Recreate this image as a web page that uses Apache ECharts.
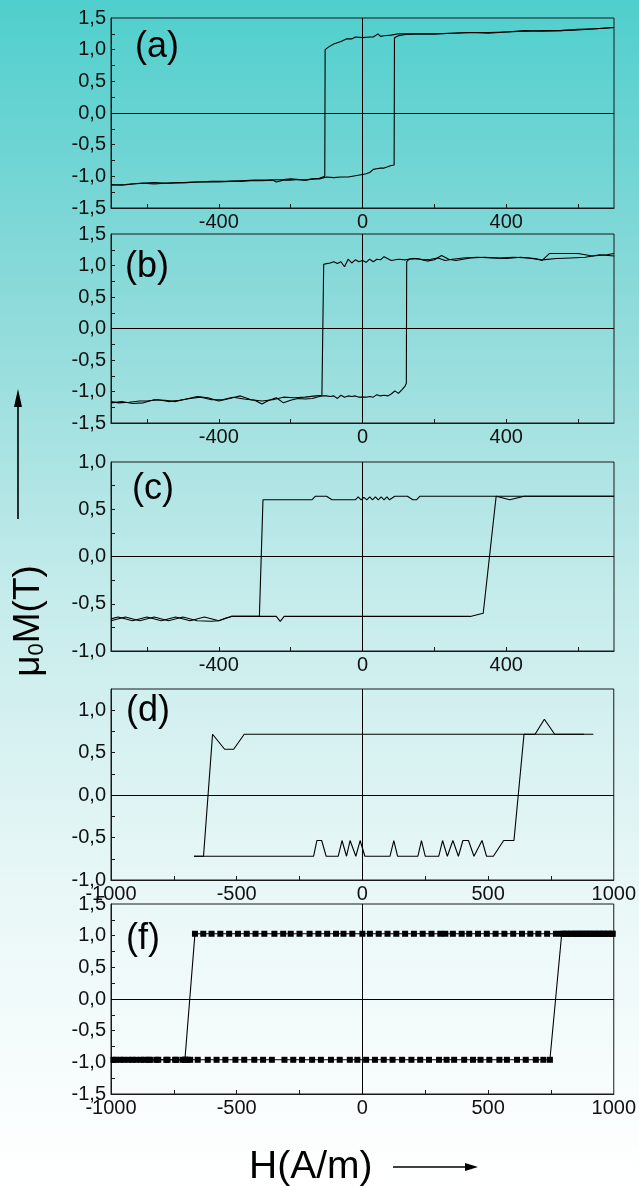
<!DOCTYPE html>
<html>
<head>
<meta charset="utf-8">
<script src="https://cdn.jsdelivr.net/npm/echarts@6/dist/echarts.min.js"></script>
<style>
  html, body { margin: 0; padding: 0; }
  #chart { width: 639px; height: 1186px; }
</style>
</head>
<body>
<div id="chart"></div>
<script>
// Hysteresis loops mu0*M(H); each panel = rising-field branch + falling-field branch.

// (a)
const aRiseH = [-700,-670,-640,-610,-580,-550,-520,-490,-460,-430,-400,-370,-340,-310,-280,-250,
  -240,-220,-200,-180,-160,-140,-120,-100,-80,-60,-40,-20,0,
  10,20,30,40,50,60,70,80,88,
  89,100,120,150,
  200,250,300,350,400,450,500,550,600,650,700];
const aRiseM = [-1.13,-1.14,-1.12,-1.11,-1.12,-1.11,-1.10,-1.10,-1.09,-1.09,-1.09,-1.08,-1.08,-1.07,-1.07,-1.06,
  -1.09,-1.06,-1.06,-1.05,-1.06,-1.04,-1.04,-1.01,-1.02,-1.01,-1.01,-0.99,-0.97,
  -0.96,-0.94,-0.89,-0.88,-0.87,-0.87,-0.85,-0.83,-0.82,
  1.19,1.22,1.24,1.25,
  1.25,1.26,1.27,1.27,1.28,1.29,1.30,1.30,1.32,1.33,1.35];
const aFallH = [700,650,600,550,500,450,400,350,300,250,200,150,
  120,100,80,60,50,43,30,20,0,
  -20,-30,-45,-60,-80,-95,-104,
  -105,-120,-160,-200,-220,-260,-300,-340,-380,-420,-460,-500,-540,-580,-620,-660,-700];
const aFallM = [1.35,1.33,1.31,1.30,1.29,1.30,1.28,1.26,1.27,1.26,1.25,1.25,
  1.25,1.25,1.23,1.22,1.21,1.25,1.20,1.20,1.19,
  1.20,1.17,1.17,1.13,1.09,1.04,1.00,
  -1.00,-1.03,-1.06,-1.04,-1.05,-1.06,-1.06,-1.07,-1.08,-1.08,-1.09,-1.10,-1.11,-1.10,-1.11,-1.13,-1.14];

// (b)
const bRiseH = [-700,-680,-650,-620,-600,-570,-540,-510,-480,-450,
  -420,-390,-360,-330,-300,-280,-260,-240,-220,-200,
  -180,-160,-140,-120,
  -110,-100,-90,-80,-70,-60,-50,-40,-30,-20,-10,0,10,20,30,40,50,60,70,80,90,100,110,
  118,122,
  123,130,150,170,190,210,230,250,280,320,
  360,400,440,480,500,520,560,600,640,680,700];
const bRiseM = [-1.16,-1.18,-1.17,-1.15,-1.15,-1.13,-1.16,-1.14,-1.11,-1.09,
  -1.13,-1.13,-1.09,-1.12,-1.14,-1.20,-1.14,-1.10,-1.18,-1.14,
  -1.11,-1.12,-1.11,-1.08,
  -1.07,-1.07,-1.08,-1.07,-1.11,-1.06,-1.09,-1.07,-1.08,-1.07,-1.09,-1.09,-1.09,-1.08,-1.09,-1.05,-1.07,-1.06,-1.07,-1.04,-0.99,-1.03,-0.97,
  -0.92,-0.87,
  1.06,1.10,1.11,1.09,1.10,1.12,1.08,1.10,1.12,1.13,
  1.12,1.11,1.13,1.11,1.08,1.19,1.19,1.19,1.15,1.17,1.19];
const bFallH = [700,660,620,580,540,500,460,420,380,340,
  300,260,240,220,200,180,160,140,120,100,
  80,60,50,40,30,20,10,0,-10,-20,
  -30,-40,-50,-60,-70,-80,-90,-100,-108,
  -113,-130,-160,-190,-220,-250,-280,-310,-340,-370,
  -400,-430,-460,-490,-520,-550,-580,-610,-640,-670,-700];
const bFallM = [1.15,1.17,1.13,1.12,1.11,1.09,1.12,1.13,1.12,1.13,
  1.12,1.08,1.10,1.16,1.09,1.07,1.10,1.11,1.09,1.10,
  1.08,1.14,1.09,1.10,1.06,1.10,1.05,1.08,1.06,1.09,
  1.04,1.10,0.98,1.06,1.03,1.06,1.04,1.03,1.02,
  -1.06,-1.07,-1.09,-1.10,-1.09,-1.13,-1.15,-1.13,-1.07,-1.11,
  -1.15,-1.10,-1.08,-1.12,-1.16,-1.14,-1.13,-1.18,-1.19,-1.16,-1.18];

// (c)
const cRiseH = [-700,-660,-620,-580,-540,-500,-460,-420,-400,-380,-365,-240,-229,-218,300,336,372,410,450,700];
const cRiseM = [-0.68,-0.64,-0.68,-0.64,-0.68,-0.64,-0.68,-0.685,-0.68,-0.65,-0.634,-0.634,-0.687,-0.634,-0.634,-0.60,0.638,0.638,0.638,0.638];
const cFallH = [700,450,410,372,160,150,140,125,90,75,
  68,60,52,44,36,28,20,12,4,-4,
  -12,-20,-85,-100,-131,-141,-277,-287,-365,-400,
  -440,-480,-520,-560,-600,-640,-680,-700];
const cFallM = [0.638,0.638,0.60,0.638,0.638,0.60,0.60,0.638,0.638,0.60,
  0.63,0.60,0.63,0.60,0.63,0.60,0.63,0.60,0.625,0.60,
  0.63,0.60,0.60,0.638,0.638,0.60,0.60,-0.634,-0.634,-0.68,
  -0.64,-0.68,-0.64,-0.68,-0.64,-0.68,-0.64,-0.66];

// (d)
const dRiseH = [-670,-194,-181,-162,-144,-96,-81,-63,-49,-26,
  -9,10,110,125,140,221,235,250,304,319,
  338,360,382,400,422,444,476,494,521,562,
  603,643,687,724,765,882];
const dRiseM = [-0.72,-0.72,-0.535,-0.535,-0.72,-0.72,-0.535,-0.72,-0.535,-0.72,
  -0.535,-0.72,-0.72,-0.535,-0.72,-0.72,-0.535,-0.72,-0.72,-0.535,
  -0.72,-0.535,-0.72,-0.535,-0.535,-0.72,-0.535,-0.72,-0.72,-0.535,
  -0.535,0.717,0.717,0.894,0.717,0.717];
const dFallH = [919,-470,-512,-548,-596,-632,-670];
const dFallM = [0.717,0.717,0.54,0.54,0.717,-0.72,-0.72];

// (f)
const fRiseH = [-990,-962,-930,-900,-868,-845,-812,-775,-745,-715,
  -705,-695,-685,-655,-615,-580,-545,-505,-470,-430,
  -395,-360,-310,-275,-240,-200,-165,-125,-90,-50,
  -20,15,50,85,120,158,195,230,265,305,
  335,365,405,440,470,505,545,575,615,650,
  690,720,746,
  793,812,830,848,866,884,902,920,938,956,974,995];
const fRiseM = [-0.96,-0.96,-0.96,-0.96,-0.96,-0.96,-0.96,-0.96,-0.96,-0.96,
  -0.96,-0.96,-0.96,-0.96,-0.96,-0.96,-0.96,-0.96,-0.96,-0.96,
  -0.96,-0.96,-0.96,-0.96,-0.96,-0.96,-0.96,-0.96,-0.96,-0.96,
  -0.96,-0.96,-0.96,-0.96,-0.96,-0.96,-0.96,-0.96,-0.96,-0.96,
  -0.96,-0.96,-0.96,-0.96,-0.96,-0.96,-0.96,-0.96,-0.96,-0.96,
  -0.96,-0.96,-0.96,
  1.03,1.03,1.03,1.03,1.03,1.03,1.03,1.03,1.03,1.03,1.03,1.03];
const fFallH = [995,980,962,945,928,910,892,875,858,840,
  818,800,770,735,700,668,635,600,565,530,
  495,460,425,395,360,330,310,275,240,205,
  170,135,100,65,30,0,-40,-75,-105,-140,
  -175,-210,-250,-285,-315,-350,-390,-425,-460,-495,
  -530,-565,-600,-633,-666,
  -706,-740,-780,-820,-850,-880,-915,-950,-980];
const fFallM = [1.03,1.03,1.03,1.03,1.03,1.03,1.03,1.03,1.03,1.03,
  1.03,1.03,1.03,1.03,1.03,1.03,1.03,1.03,1.03,1.03,
  1.03,1.03,1.03,1.03,1.03,1.03,1.03,1.03,1.03,1.03,
  1.03,1.03,1.03,1.03,1.03,1.03,1.03,1.03,1.03,1.03,
  1.03,1.03,1.03,1.03,1.03,1.03,1.03,1.03,1.03,1.03,
  1.03,1.03,1.03,1.03,1.03,
  -0.96,-0.96,-0.96,-0.96,-0.96,-0.96,-0.96,-0.96,-0.96];

// Axis ticks and labels
const hTicksNarrow = [-600,-400,-200,0,200,400,600];
const hLabelsNarrow = [-400,0,400];
const hTicksWide = [-750,-500,-250,0,250,500,750];
const hLabelsWide = [-1000,-500,0,500,1000];
const mTicks15 = [-1.25,-1,-0.75,-0.5,-0.25,0,0.25,0.5,0.75,1,1.25];
const mLabels15 = [-1.5,-1,-0.5,0,0.5,1,1.5];
const mTicks10 = [-0.75,-0.5,-0.25,0,0.25,0.5,0.75];
const mLabels10 = [-1,-0.5,0,0.5,1];
const mTicksD = [-0.75,-0.5,-0.25,0,0.25,0.5,0.75,1];
const mLabelsD = [-1,-0.5,0,0.5,1];
const panelNames = ['(a)','(b)','(c)','(d)','(f)'];

const FONT = '"Liberation Sans", Arial, Helvetica, sans-serif';
const AXIS_COLOR = '#1a1a1a';
const TICK_FONT = 20;

const pair = (h, m) => h.map((x, i) => [x, m[i]]);

const panels = [
  { top: 18,  height: 190, hMin: -700,  hMax: 700,  hT: hTicksNarrow, hL: hLabelsNarrow, mMin: -1.5, mMax: 1.5,  mT: mTicks15, mL: mLabels15, rise: pair(aRiseH, aRiseM), fall: pair(aFallH, aFallM) },
  { top: 234, height: 189, hMin: -700,  hMax: 700,  hT: hTicksNarrow, hL: hLabelsNarrow, mMin: -1.5, mMax: 1.5,  mT: mTicks15, mL: mLabels15, rise: pair(bRiseH, bRiseM), fall: pair(bFallH, bFallM) },
  { top: 462, height: 189, hMin: -700,  hMax: 700,  hT: hTicksNarrow, hL: hLabelsNarrow, mMin: -1.0, mMax: 1.0,  mT: mTicks10, mL: mLabels10, rise: pair(cRiseH, cRiseM), fall: pair(cFallH, cFallM) },
  { top: 689, height: 191, hMin: -1000, hMax: 1000, hT: hTicksWide,   hL: hLabelsWide,   mMin: -1.0, mMax: 1.25, mT: mTicksD,  mL: mLabelsD,  rise: pair(dRiseH, dRiseM), fall: pair(dFallH, dFallM) },
  { top: 904, height: 190, hMin: -1000, hMax: 1000, hT: hTicksWide,   hL: hLabelsWide,   mMin: -1.5, mMax: 1.5,  mT: mTicks15, mL: mLabels15, rise: pair(fRiseH, fRiseM), fall: pair(fFallH, fFallM), markers: true }
];

const commaFmt = v => v.toFixed(1).replace('.', ',').replace('-0,0', '0,0');
const plainFmt = v => String(Math.round(v));

const grids = [], xAxes = [], yAxes = [], series = [];
panels.forEach((p, i) => {
  grids.push({ left: 111, width: 503, top: p.top, height: p.height, show: true,
    borderColor: AXIS_COLOR, borderWidth: 1, backgroundColor: 'transparent', containLabel: false });
  xAxes.push({
    type: 'value', gridIndex: i, min: p.hMin, max: p.hMax,
    axisLine: { show: true, onZero: false, lineStyle: { color: AXIS_COLOR, width: 1 } },
    axisTick: { show: true, inside: true, length: 4, customValues: p.hT, lineStyle: { color: AXIS_COLOR } },
    axisLabel: { customValues: p.hL, margin: 4, color: '#111', fontSize: TICK_FONT, fontFamily: FONT, formatter: plainFmt },
    splitLine: { show: false }
  });
  yAxes.push({
    type: 'value', gridIndex: i, min: p.mMin, max: p.mMax,
    axisLine: { show: true, onZero: false, lineStyle: { color: AXIS_COLOR, width: 1 } },
    axisTick: { show: true, inside: true, length: 4, customValues: p.mT, lineStyle: { color: AXIS_COLOR } },
    axisLabel: { customValues: p.mL, margin: 5, color: '#111', fontSize: TICK_FONT, fontFamily: FONT, formatter: commaFmt },
    splitLine: { show: false }
  });
  const base = {
    type: 'line', xAxisIndex: i, yAxisIndex: i, silent: true, animation: false,
    lineStyle: { color: '#000', width: 1.1 }, itemStyle: { color: '#000' },
    symbol: p.markers ? 'rect' : 'none', symbolSize: 6, showSymbol: !!p.markers, showAllSymbol: true,
    emphasis: { disabled: true }
  };
  series.push(Object.assign({}, base, {
    data: p.rise,
    markLine: {
      silent: true, symbol: ['none', 'none'], animation: false,
      label: { show: false },
      lineStyle: { color: '#000', width: 1, type: 'solid' },
      emphasis: { disabled: true },
      data: [{ xAxis: 0 }, { yAxis: 0 }]
    }
  }));
  series.push(Object.assign({}, base, { data: p.fall }));
});

const labelAnchors = [[135, 47], [125, 267], [132, 489], [126, 711], [126, 939]];
const graphics = panelNames.map((t, i) => ({
  type: 'text', x: labelAnchors[i][0], y: labelAnchors[i][1], silent: true,
  style: { text: t, fill: '#000', fontSize: 36, fontFamily: FONT, align: 'left', verticalAlign: 'middle' }
}));

// vertical axis title with its arrow
graphics.push({
  type: 'text', x: 29, y: 621, rotation: Math.PI / 2, silent: true,
  style: {
    text: '{m|\u03bc}{s|0}{m|M(T)}', fill: '#000', align: 'center', verticalAlign: 'middle',
    rich: {
      m: { fontSize: 37, fontFamily: FONT, fill: '#000' },
      s: { fontSize: 22, fontFamily: FONT, fill: '#000', verticalAlign: 'bottom' }
    }
  }
});
graphics.push({ type: 'line', silent: true, shape: { x1: 18, y1: 519, x2: 18, y2: 402 }, style: { stroke: '#000', lineWidth: 1.6 } });
graphics.push({ type: 'polygon', silent: true, shape: { points: [[18, 389], [14, 407], [22, 407]] }, style: { fill: '#000' } });

// horizontal axis title with its arrow
graphics.push({
  type: 'text', x: 249, y: 1167, silent: true,
  style: { text: 'H(A/m)', fill: '#000', fontSize: 39, fontFamily: FONT, align: 'left', verticalAlign: 'middle' }
});
graphics.push({ type: 'line', silent: true, shape: { x1: 393, y1: 1167, x2: 468, y2: 1167 }, style: { stroke: '#000', lineWidth: 1.6 } });
graphics.push({ type: 'polygon', silent: true, shape: { points: [[478, 1167], [465, 1163], [465, 1171]] }, style: { fill: '#000' } });

const chart = echarts.init(document.getElementById('chart'), null, { renderer: 'canvas' });
chart.setOption({
  animation: false,
  backgroundColor: new echarts.graphic.LinearGradient(0, 0, 0, 1, [
    { offset: 0, color: '#4FCFCD' },
    { offset: 0.25, color: '#8CDADA' },
    { offset: 0.5, color: '#C5EBEB' },
    { offset: 0.75, color: '#E9F7F7' },
    { offset: 1, color: '#FFFFFF' }
  ]),
  grid: grids,
  xAxis: xAxes,
  yAxis: yAxes,
  series: series,
  graphic: graphics
});
</script>
</body>
</html>
